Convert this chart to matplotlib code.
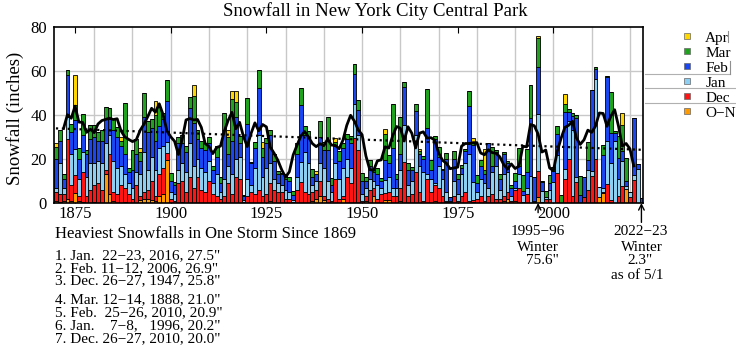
import numpy as np
import matplotlib.pyplot as plt
from matplotlib.lines import Line2D

plt.rcParams['font.family'] = ['Liberation Serif', 'DejaVu Serif']

# winters 1869-70 ... 2022-23, plotted at the ending year
years = np.arange(1870, 2024)

# monthly snowfall (inches), one row per decade
oct_nov = [1, 0.5, 1, 2, 1, 4.4, 1, 0.5, 0, 0,
           0.5, 0, 0, 13, 4, 1, 0, 0, 0.5, 0,
           0, 0, 1.5, 2, 2, 1.5, 1, 3, 4, 19.5,
           0, 0, 0, 0.5, 0, 0, 0, 0, 0, 0,
           0, 0, 0, 0, 0, 0, 0, 0, 0, 0,
           0, 0, 0, 0, 0, 0, 1, 0, 0, 0,
           0, 0, 0, 0, 0, 0, 0, 1, 2, 3,
           1.5, 0, 0, 0, 0, 2, 0, 0, 0, 0,
           0, 1, 0, 3, 0, 0, 1.5, 1.5, 0, 0,
           1, 0, 0, 0, 0, 0, 0, 0, 0, 1,
           0, 0, 0.5, 0, 0, 0, 0, 0, 0, 0.5,
           0, 0, 0, 0, 0, 0, 0, 1, 2, 0,
           1, 0, 0, 0, 0, 0, 2.9, 0, 0, 0,
           0, 0, 0, 0, 0, 0, 0, 0, 0, 0,
           0, 0, 2.9, 4.7, 0.2, 0.2, 0, 0, 0, 6.4,
           0, 0, 0, 0]
dec = [4, 3.5, 3, 27, 7, 8.3, 2, 13.5, 3, 6,
       7.5, 9, 6, 2, 18, 4, 4, 8, 6.5, 4,
       2, 8, 1.5, 3, 4, 8.5, 2, 10, 12, 3,
       2, 1, 9, 9.5, 5, 12, 7, 12, 6, 5,
       10, 4, 3, 2, 3, 9, 4, 12, 11, 0.5,
       3, 5, 4, 6, 3, 4, 8, 6, 5, 5,
       2, 2, 0.5, 6, 9.5, 5, 4, 4, 4, 7,
       1.5, 2, 1, 11, 2, 1, 12, 9, 29.6, 24,
       1, 2, 6, 4, 2, 4, 3, 3.5, 3, 3,
       6, 18.6, 3, 4, 14, 5, 1, 11, 5, 7,
       7, 3, 0.5, 0.5, 3, 1, 3, 5, 1, 1,
       2, 3, 1, 3, 4, 2, 2, 2, 3, 1,
       5, 7, 0.5, 4, 0.2, 0.5, 11.5, 0.5, 2, 2,
       0, 13.4, 0, 11, 19.8, 3, 9.7, 0, 2.9, 6,
       12.4, 20.1, 0, 0.4, 8.4, 1.0, 0, 3.2, 7.7, 0,
       2.5, 10.5, 0.2, 0]
jan = [2, 14, 3, 10, 14, 12, 8, 9, 9, 12,
       10, 10, 12, 12, 9, 14, 12, 9, 6, 5,
       5, 6, 10, 18, 9, 11, 12, 12, 10, 5,
       3, 3, 6, 8, 9, 15, 10, 8, 10, 9,
       9, 5, 10, 3, 8, 8, 9, 8, 10, 1,
       8, 3, 12, 25, 9, 12, 9, 5, 4, 3,
       4, 3, 1, 6, 9, 18, 14, 3, 4, 8,
       13, 8, 4, 7, 9, 13, 8, 7, 15.3, 7,
       3, 4, 5, 3, 6, 3, 6, 7, 4, 4,
       8, 16.7, 5, 6, 17, 12, 13, 2, 6, 1,
       10, 8, 4, 0.5, 7, 3, 10, 13, 21, 8,
       3, 8, 8, 4, 10, 15, 4, 10, 9, 2,
       1, 6, 3, 3, 12, 0.5, 26.1, 5, 0.5, 4,
       9.5, 8.3, 0.2, 4.4, 17.3, 30.3, 2, 0, 0, 9,
       2.1, 36.0, 4.3, 1.5, 19.7, 16.9, 27.9, 7.9, 11.2, 1.1,
       2.3, 2.1, 15.3, 0]
feb = [13, 10, 4, 19, 10, 12.8, 9, 8, 10, 11,
       12, 9, 10, 11, 7, 14, 14, 9, 9, 5,
       8, 8, 6, 16, 17, 13, 13, 10, 12, 19,
       5, 4, 12, 9, 9, 16, 19.5, 9, 9, 10,
       8, 6, 8, 4, 22, 5, 15, 19, 6, 1.6,
       25, 10, 9, 21, 9, 11, 13, 8, 4, 5,
       5, 5, 2, 10, 26, 8, 12, 4, 3, 12,
       8, 14, 3, 8, 8, 9, 9, 11, 13.6, 11,
       6, 3, 6, 4, 5, 3, 9, 6, 18, 4,
       7, 17.5, 7, 5, 10.7, 5, 6, 21, 4, 20,
       4, 4, 15, 1.8, 10, 7, 3, 5.5, 22, 17,
       4, 6, 4, 20, 3, 6, 5, 9, 4, 4,
       3, 4, 2, 7, 26.4, 10.8, 21.2, 4, 0, 3,
       5, 9.5, 0, 26.1, 4.4, 6, 26.9, 3.8, 9, 4.3,
       36.9, 4.8, 0.2, 15.3, 29.0, 13.6, 4.0, 9.4, 4.9, 2.6,
       0, 26.0, 2.0, 2.3]
mar = [5.5, 5, 2, 2.3, 4, 6.8, 5, 9.6, 2, 6.3,
       5.3, 4, 5, 5.7, 5, 5, 4.6, 2, 23.5, 1.8,
       9, 7, 4, 10.7, 5, 4, 12, 8.7, 3, 9.5,
       3.4, 1.7, 3, 4, 3, 5, 12, 4, 3, 3,
       3, 2, 5, 3, 8, 8, 19, 7, 3.2, 0.7,
       11.6, 0.6, 2.7, 8.4, 4, 2.6, 1.9, 3.3, 1.5, 0.8,
       2.2, 1.6, 1.8, 5, 7.5, 4, 2.5, 3.6, 0, 7.3,
       3.8, 15, 3.3, 1.5, 4.8, 2.1, 2.4, 3.6, 4.7, 4.6,
       3.8, 1.6, 2.7, 1.1, 2.8, 1.5, 12, 3.9, 19.7, 2,
       17.2, 1.9, 3.1, 1.3, 3, 1.4, 1.4, 17.5, 4.5, 1.2,
       4.6, 0.5, 2.9, 0, 3.5, 2.1, 1.3, 1, 6.7, 0.9,
       3.8, 2.4, 2, 0.2, 8.4, 1.1, 2, 1.1, 1.1, 1.1,
       3.4, 7.9, 7.1, 10.5, 14.8, 0, 13.2, 0.5, 3, 3.7,
       1.8, 3.8, 3.3, 3.3, 1.1, 1.7, 1.4, 8.6, 0, 8.3,
       0, 1.0, 0, 4.2, 0.1, 18.6, 0.9, 9.7, 11.6, 10.4,
       0, 0, 0.4, 0]
apr = [1.5, 0, 0, 0, 0, 13.6, 0, 0, 0, 0,
       0, 0, 0, 0, 0, 0, 0, 2, 0, 0,
       0, 0, 2, 0, 0, 0, 6.4, 0, 0, 0,
       0, 0, 0, 0, 0, 0, 5, 0, 0, 0,
       0, 0, 0, 0, 0, 3, 3.7, 4.7, 0, 0,
       0, 0, 0, 0, 2.5, 0, 0, 0, 0, 0,
       0, 0, 0, 0, 0, 0, 0, 0, 1.6, 0,
       0, 0, 0, 2, 0, 0, 0, 0, 0, 0,
       0, 0, 0, 0, 0, 0, 2, 0, 0, 0,
       0, 0, 0, 0, 0, 1, 0, 0, 0, 0,
       0, 0, 0, 0, 0, 0, 0, 0, 0, 2,
       0, 0, 9.6, 0, 0, 0, 0, 0, 0, 0,
       0, 0, 0, 0, 0, 0, 0.7, 0, 0, 0,
       0, 0, 0, 4.5, 0, 0, 0, 0, 0, 0,
       0, 0, 0, 0, 0, 0, 0, 0, 5.5, 0,
       0, 0, 0, 0]

months = ['O\u2212N', 'Dec', 'Jan', 'Feb', 'Mar', 'Apr']
colors = ['#ff9a00', '#ff1414', '#8ccff2', '#1a46f2', '#1fa31f', '#ffd700']

storms = ['1. Jan.  22\u221223, 2016, 27.5"',
          '2. Feb. 11\u221212, 2006, 26.9"',
          '3. Dec. 26\u221227, 1947, 25.8"',
          '4. Mar. 12\u221214, 1888, 21.0"',
          '5. Feb.  25\u221226, 2010, 20.9"',
          '6. Jan.    7\u22128,   1996, 20.2"',
          '7. Dec. 26\u221227, 2010, 20.0"']


def main():
    fig = plt.figure(figsize=(7.36, 3.51), dpi=100)
    ax = fig.add_axes([0.0734, 0.4217, 0.8007, 0.5023])

    for x in range(1880, 2021, 10):
        ax.axvline(x, color='#c8c8c8', lw=1, zorder=0)
    for y in (20, 40, 60):
        ax.axhline(y, color='#c8c8c8', lw=1, zorder=0)

    bottom = np.zeros(len(years))
    for vals, c in zip([oct_nov, dec, jan, feb, mar, apr], colors):
        vals = np.array(vals, dtype=float)
        ax.bar(years, vals, width=1.0, bottom=bottom, color=c,
               edgecolor='black', linewidth=0.6, zorder=2)
        bottom += vals
    totals = bottom

    # 5-winter running mean and linear trend
    run5 = np.convolve(totals, np.ones(5) / 5, mode='valid')
    ax.plot(years[2:-2], run5, color='black', lw=2, zorder=3)
    slope, icpt = np.polyfit(years, totals, 1)
    ax.plot(years, slope * years + icpt, color='black', ls=':', lw=1.6, zorder=3)

    ax.set_xlim(1869.5, 2023.5)
    ax.set_ylim(0, 80)
    ax.set_xticks([1875, 1900, 1925, 1950, 1975, 2000])
    ax.set_yticks([0, 20, 40, 60, 80])
    ax.tick_params(axis='x', direction='in', top=True, length=4, labelsize=12, pad=2.5)
    ax.tick_params(axis='y', direction='in', length=0, labelsize=12, pad=5)
    for s in ax.spines.values():
        s.set_linewidth(1.2)

    fig.text(375 / 736, 1 - 11 / 351, 'Snowfall in New York City Central Park',
             ha='center', va='center', fontsize=13.5)
    fig.text(15 / 736, 1 - 118 / 351, 'Snowfall (inches)', rotation=90,
             ha='center', va='center', fontsize=13.5)

    handles = [Line2D([], [], marker='s', ls='', color=c, markeredgecolor='#666666',
                      markeredgewidth=0.5, markersize=5) for c in colors]
    fig.legend(handles[::-1], months[::-1], loc='upper left',
               bbox_to_anchor=(680 / 736, 1 - 31 / 351), frameon=False,
               fontsize=11, handlelength=0.9, handletextpad=0.75,
               labelspacing=0.085, borderpad=0, borderaxespad=0)
    for y0, x1 in ((74, 730), (88, 736), (103, 736)):
        fig.add_artist(Line2D([645 / 736, x1 / 736], [1 - y0 / 351, 1 - y0 / 351],
                              color='#b0b0b0', lw=0.8))
    for x0, y0, y1 in ((728, 31, 42), (730, 61, 74)):
        fig.add_artist(Line2D([x0 / 736, x0 / 736], [1 - y0 / 351, 1 - y1 / 351],
                              color='#909090', lw=0.8))

    fig.text(55 / 736, 1 - 234 / 351, 'Heaviest Snowfalls in One Storm Since 1869',
             ha='left', va='center', fontsize=12)
    ys = [256, 268.5, 281, 299.5, 312.5, 325.5, 338.5]
    for y, s in zip(ys, storms):
        fig.text(55 / 736, 1 - y / 351, s, ha='left', va='center', fontsize=11)

    tr = ax.get_xaxis_transform()
    arrow = dict(arrowstyle='->', color='black', lw=1, shrinkA=0, shrinkB=0)
    ax.annotate('', xy=(1996, 0), xycoords=tr, xytext=(1996, -0.055), textcoords=tr,
                arrowprops=arrow)
    ax.annotate('', xy=(2023, 0), xycoords=tr, xytext=(2023, -0.11), textcoords=tr,
                arrowprops=arrow)
    for x, y, s in ((1996, -0.164, '1995\u221296'), (1996, -0.25, 'Winter'),
                    (1997.2, -0.329, '75.6"'),
                    (2022.9, -0.164, '2022\u221223'), (2023, -0.25, 'Winter'),
                    (2022.5, -0.329, '2.3"'), (2021.9, -0.414, 'as of 5/1')):
        ax.text(x, y, s, transform=tr, ha='center', va='center', fontsize=11)

    fig.savefig('out.png', dpi=100)


if __name__ == '__main__':
    main()
